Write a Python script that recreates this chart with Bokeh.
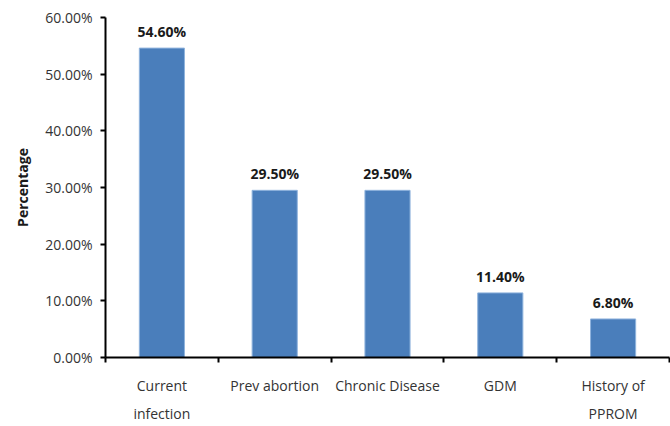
from bokeh.plotting import figure
from bokeh.models import FixedTicker, PrintfTickFormatter, ColumnDataSource, Range1d
from bokeh.core.properties import value
from bokeh.embed import file_html
from bokeh.resources import INLINE

# Risk factors and their share (%)
categories = ["Current\ninfection", "Prev abortion", "Chronic Disease", "GDM", "History of\nPPROM"]
percentages = [54.6, 29.5, 29.5, 11.4, 6.8]
y_ticks = [0, 10, 20, 30, 40, 50, 60]

FONT = "Open Sans"
BAR_COLOR = "#4a7ebb"

positions = [i + 0.5 for i in range(len(categories))]
src = ColumnDataSource(dict(
    x=positions,
    top=percentages,
    label=[f"{v:.2f}%" for v in percentages],
))

p = figure(width=670, height=426, output_backend="svg", toolbar_location=None,
           x_range=Range1d(0, len(categories)), y_range=Range1d(0, 60),
           min_border_left=105, min_border_right=1, min_border_top=17, min_border_bottom=66)
p.outline_line_color = None
p.grid.visible = False
p.background_fill_color = "white"
p.border_fill_color = "white"

p.vbar(x="x", top="top", width=0.4, source=src, fill_color=BAR_COLOR,
       line_color="#8fb3dd", line_width=1)

p.text(x="x", y="top", text="label", source=src, text_align="center",
       text_baseline="bottom", y_offset=-7, text_font=value(FONT),
       text_font_size="14px", text_font_style="bold", text_color="#1a1a1a")

# y axis
ya = p.yaxis[0]
ya.ticker = FixedTicker(ticks=y_ticks, minor_ticks=[])
ya.formatter = PrintfTickFormatter(format="%.2f%%")
ya.axis_label = "Percentage"
ya.axis_label_text_font = FONT
ya.axis_label_text_font_style = "bold"
ya.axis_label_text_font_size = "14px"
ya.axis_label_text_color = "#1a1a1a"
ya.axis_label_standoff = 10
ya.major_label_text_font = FONT
ya.major_label_text_font_size = "14px"
ya.major_label_text_color = "#333333"
ya.major_label_standoff = 8
ya.axis_line_width = 2
ya.axis_line_color = "black"
ya.major_tick_line_width = 2
ya.major_tick_out = 5
ya.major_tick_in = 0
ya.minor_tick_line_color = None

# x axis: labels at bar centres, tick marks between categories
xa = p.xaxis[0]
xa.ticker = FixedTicker(ticks=positions, minor_ticks=list(range(len(categories) + 1)))
xa.major_label_overrides = {pos: name for pos, name in zip(positions, categories)}
xa.major_label_text_font = FONT
xa.major_label_text_font_size = "14px"
xa.major_label_text_color = "#333333"
xa.major_label_text_line_height = 1.5
xa.major_label_standoff = 13
xa.major_tick_line_color = None
xa.major_tick_out = 0
xa.major_tick_in = 0
xa.minor_tick_line_color = "black"
xa.minor_tick_line_width = 2
xa.minor_tick_out = 5
xa.minor_tick_in = 0
xa.axis_line_width = 2
xa.axis_line_color = "black"

open("out.html", "w").write(file_html(p, INLINE))
